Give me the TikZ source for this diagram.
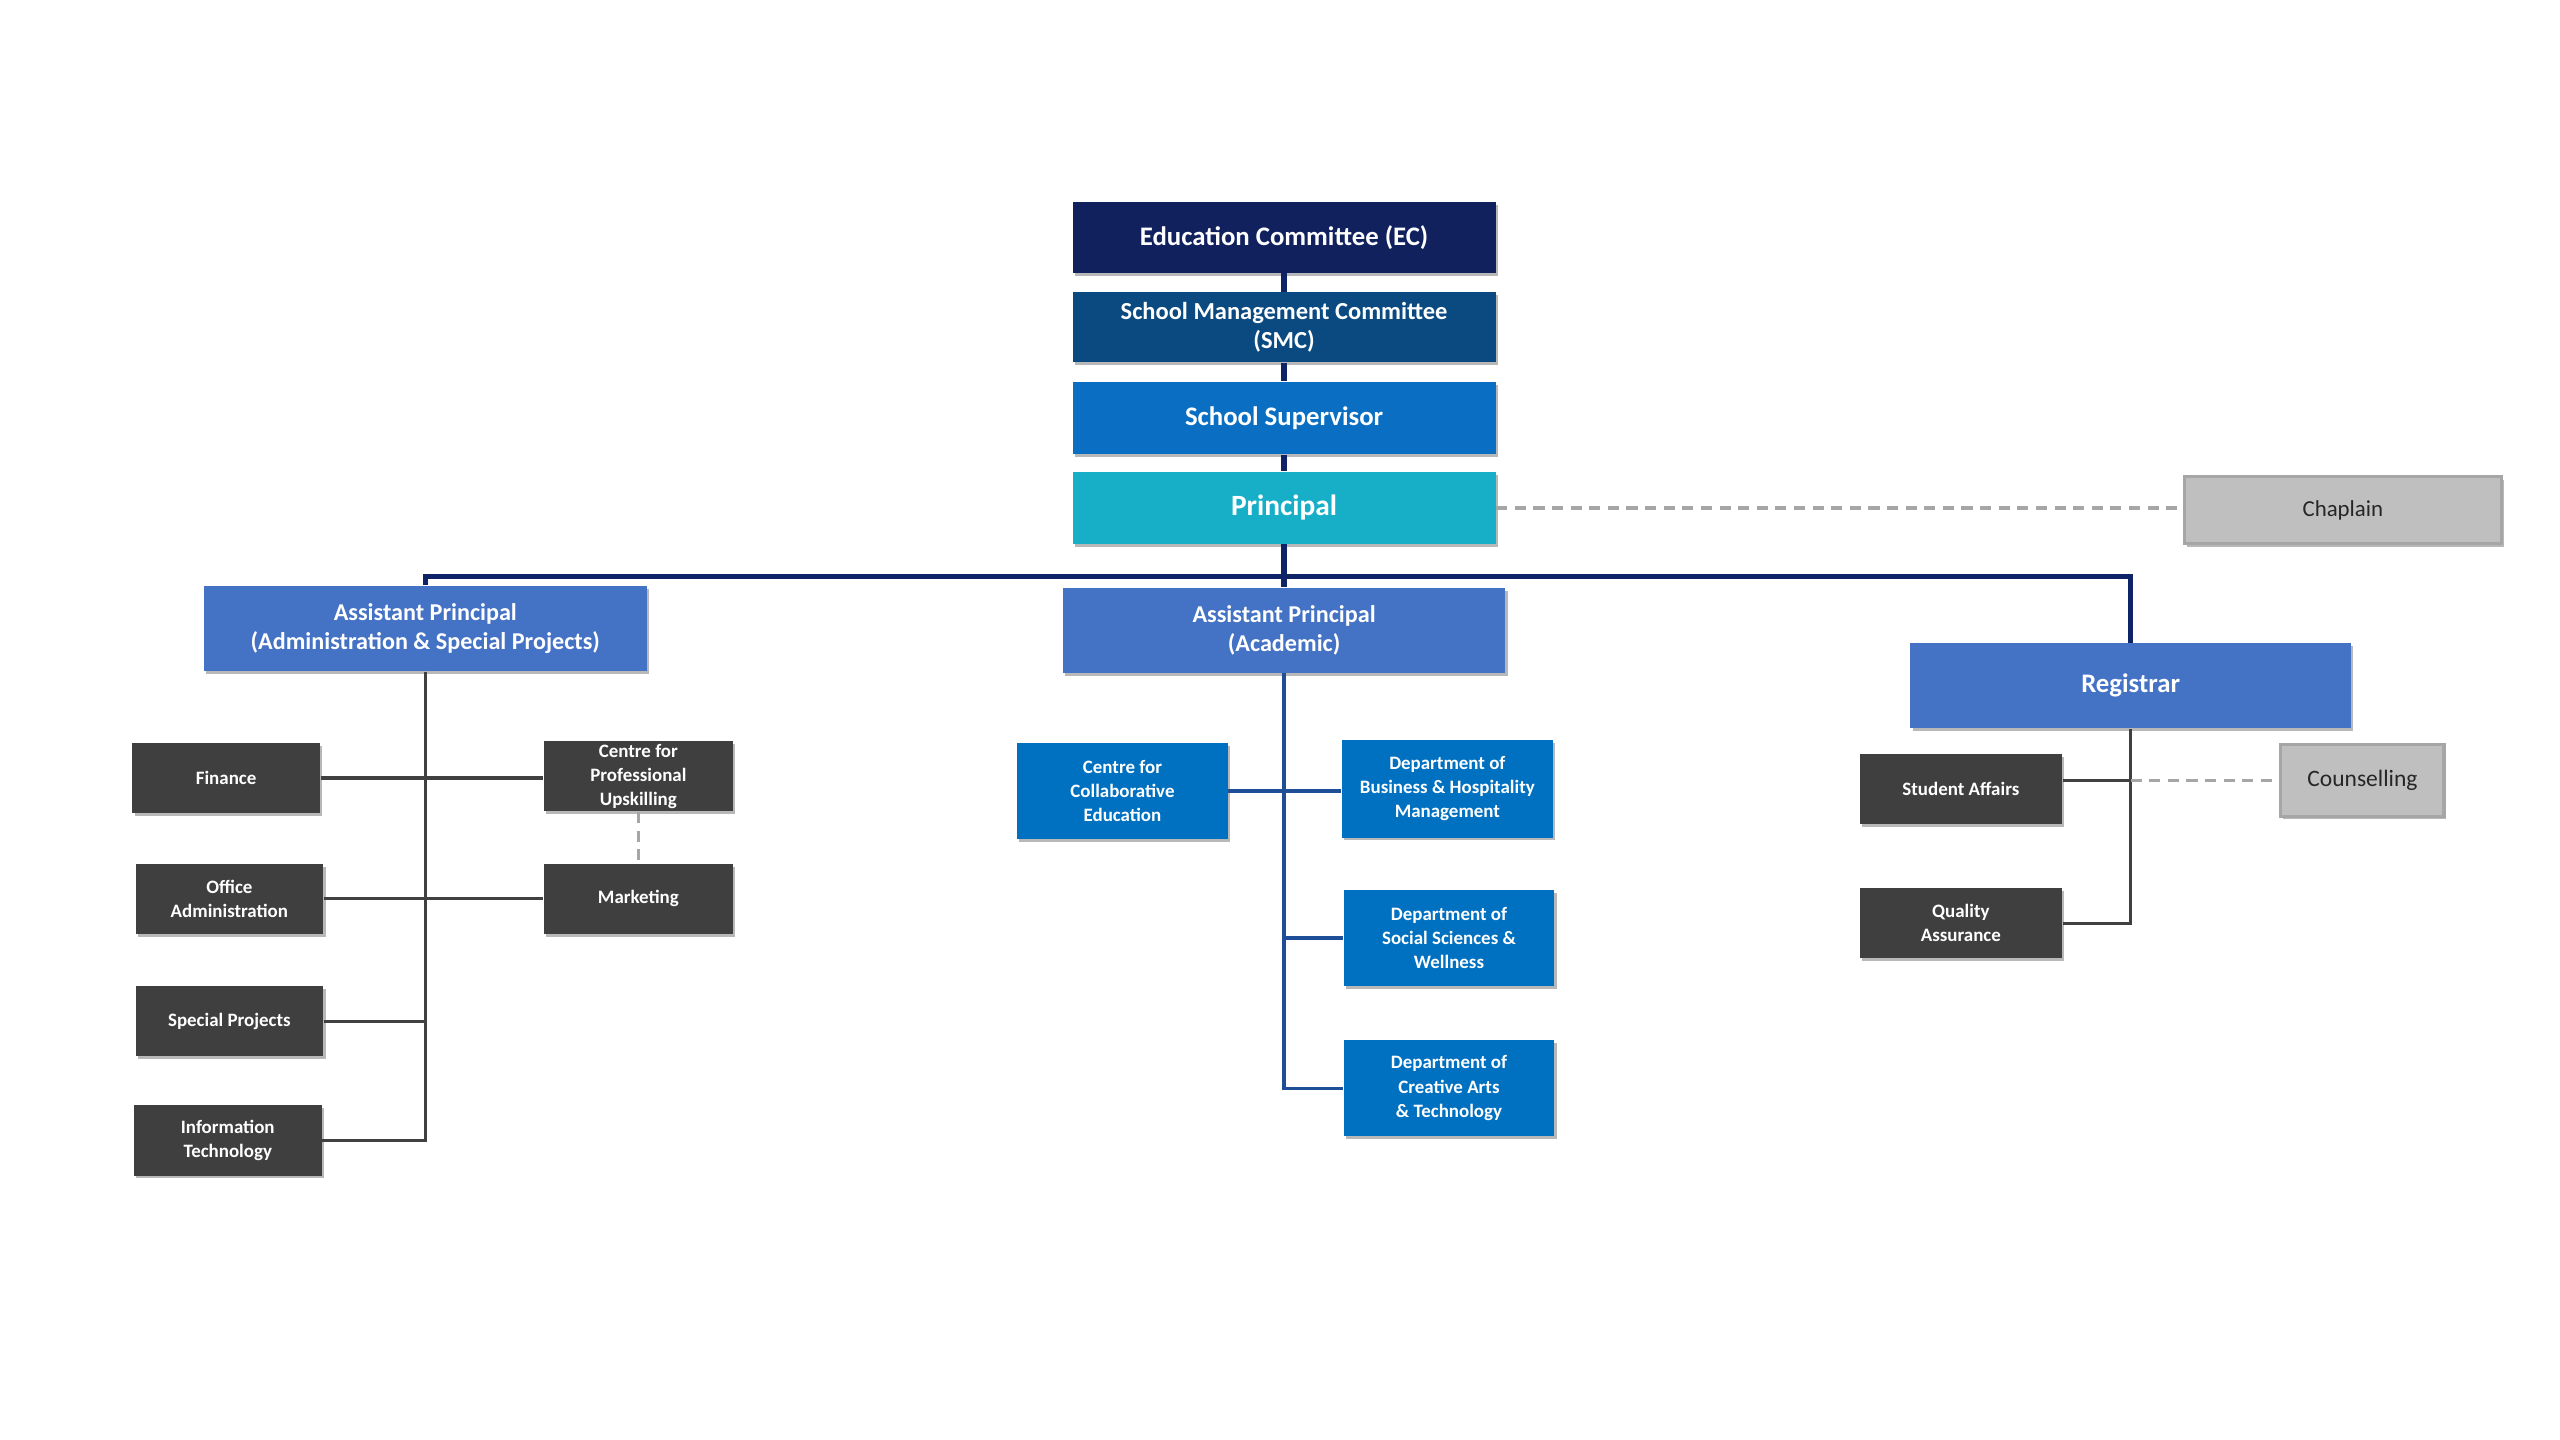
\documentclass[tikz,border=0pt]{standalone}
\usepackage{fontspec}
\setmainfont{Carlito}
\usetikzlibrary{shadows,calc}
\definecolor{ecc}{HTML}{10215E}
\definecolor{smcc}{HTML}{0A4A80}
\definecolor{ssc}{HTML}{0A6FC2}
\definecolor{prc}{HTML}{17AFC8}
\definecolor{apc}{HTML}{4472C4}
\definecolor{depc}{HTML}{0070C0}
\definecolor{darkc}{HTML}{3F3F3F}
\definecolor{lgfill}{HTML}{BFBFBF}
\definecolor{lgdraw}{HTML}{A6A6A6}
\definecolor{navyline}{HTML}{0F2466}
\definecolor{blueline}{HTML}{1F4E99}
\definecolor{grayline}{HTML}{404040}
\definecolor{txtdark}{HTML}{262626}
\begin{document}
\begin{tikzpicture}[x=0.5pt,y=-0.5pt,
  box/.style={rectangle, inner sep=0pt, align=center, text=white,
    drop shadow={shadow xshift=0.7pt, shadow yshift=-0.9pt, opacity=0.28, fill=black}},
  topbox/.style={box, minimum width=129.5pt, minimum height=21.5pt,
    font=\bfseries\fontsize{8.2}{9.4}\selectfont},
  apbox/.style={box, fill=apc, minimum width=135.5pt, minimum height=26pt,
    font=\bfseries\fontsize{7.4}{9}\selectfont},
  darkbox/.style={box, fill=darkc, minimum width=57.5pt, minimum height=21.5pt,
    font=\bfseries\fontsize{5.8}{7.3}\selectfont},
  depbox/.style={box, fill=depc, minimum width=64.5pt, minimum height=29.5pt,
    font=\bfseries\fontsize{5.8}{7.4}\selectfont},
  greybox/.style={box, fill=lgfill, draw=lgdraw, line width=1pt, text=txtdark},
  navy/.style={draw=navyline, line width=1.7pt},
  blueconn/.style={draw=blueline, line width=1pt},
  grayconn/.style={draw=grayline, line width=1pt},
  dashconn/.style={draw=lgdraw, line width=1.1pt, dash pattern=on 3.4pt off 2.3pt}
]
\fill[white] (0,0) rectangle (1568,882);
\useasboundingbox (0,0) rectangle (1568,882);

% top chain
\node[topbox, fill=ecc] (ec) at (786.5,145.5) {Education Committee (EC)};
\node[topbox, fill=smcc, font=\bfseries\fontsize{7.5}{9}\selectfont] (smc) at (786.5,200.5) {School Management Committee\\(SMC)};
\node[topbox, fill=ssc, minimum height=22pt] (ss) at (786.5,256) {School Supervisor};
\node[topbox, fill=prc, minimum height=22pt, font=\bfseries\fontsize{9}{10}\selectfont] (pr) at (786.5,311) {Principal};
\node[greybox, minimum width=97pt, minimum height=20.5pt, font=\fontsize{7}{8}\selectfont] (chap) at (1435,312.5) {Chaplain};

% second level
\node[apbox] (apa) at (260.5,385) {Assistant Principal\\(Administration \& Special Projects)};
\node[apbox] (apcn) at (786.5,386) {Assistant Principal\\(Academic)};
\node[apbox, minimum width=135pt, font=\bfseries\fontsize{8.2}{9}\selectfont] (reg) at (1305,420) {Registrar};

% left branch
\node[darkbox] (fin) at (138.5,476.5) {Finance};
\node[darkbox, minimum width=58pt] (cpu) at (391,475.5) {Centre for\\Professional\\Upskilling};
\node[darkbox] (oa) at (140.5,550.5) {Office\\Administration};
\node[darkbox, minimum width=58pt] (mkt) at (391,550.5) {Marketing};
\node[darkbox] (sp) at (140.5,625.5) {Special Projects};
\node[darkbox] (it) at (139.5,698.5) {Information\\Technology};

% middle branch
\node[depbox] (cce) at (687.5,484.5) {Centre for\\Collaborative\\Education};
\node[depbox, minimum height=30pt] (bhm) at (886.5,483) {Department of\\Business \& Hospitality\\Management};
\node[depbox] (ssw) at (887.5,574.5) {Department of\\Social Sciences \&\\Wellness};
\node[depbox] (cat) at (887.5,666.5) {Department of\\Creative Arts\\\& Technology};

% right branch
\node[darkbox, minimum width=62pt] (sa) at (1201,483.5) {Student Affairs};
\node[darkbox, minimum width=62pt] (qa) at (1201,565.5) {Quality\\Assurance};
\node[greybox, minimum width=50pt, minimum height=22pt, font=\fontsize{7.2}{8}\selectfont] (cou) at (1447,478) {Counselling};

% connectors: top chain
\draw[navy] (ec.south) -- (smc.north);
\draw[navy] (smc.south) -- (ss.north);
\draw[navy] (ss.south) -- (pr.north);
\draw[navy] (pr.south) -- (apcn.north);
\coordinate (busy) at (0,353);
\draw[navy, line join=miter] (apa.north) |- (pr.south |- busy) -| (reg.north);
\draw[dashconn] (pr.east) -- (pr.east -| chap.west);

% left branch connectors
\draw[grayconn] (apa.south) -- (apa.south |- it.east) -- (it.east);
\draw[grayconn] (fin.east) -- (fin.east -| cpu.west);
\draw[grayconn] (oa.east) -- (mkt.west);
\draw[grayconn] (sp.east) -- (sp.east -| apa.south);
\draw[dashconn] (cpu.south) -- (mkt.north);

% middle branch connectors
\draw[blueconn] (apcn.south) -- (apcn.south |- cat.west) -- (cat.west);
\draw[blueconn] (cce.east) -- (cce.east -| bhm.west);
\draw[blueconn] (ssw.west) -- (ssw.west -| apcn.south);

% right branch connectors
\draw[grayconn] (reg.south) -- (reg.south |- qa.east) -- (qa.east);
\draw[grayconn] (sa.east |- cou.west) -- (reg.south |- cou.west);
\draw[dashconn] (reg.south |- cou.west) -- (cou.west);
\end{tikzpicture}
\end{document}
